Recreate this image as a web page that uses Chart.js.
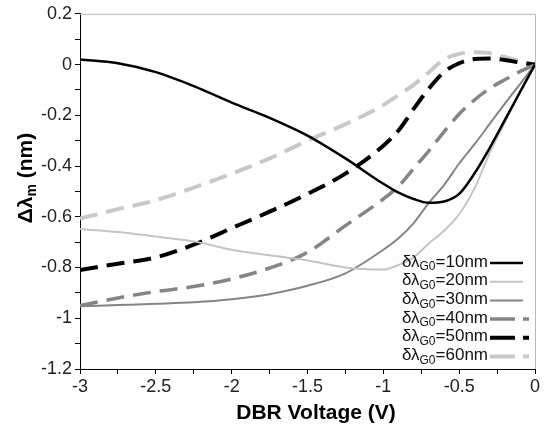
<!DOCTYPE html>
<html>
<head>
<meta charset="utf-8">
<script src="https://cdn.jsdelivr.net/npm/chart.js@4/dist/chart.umd.min.js"></script>
<style>
  body { margin: 0; background: #fff; }
  canvas { display: block; }
</style>
</head>
<body>
<canvas id="grafico" width="547" height="432"></canvas>
<script>
// datos
const voltajes = [-3, -2.75, -2.5, -2.25, -2, -1.75, -1.5, -1.25, -1, -0.9, -0.8, -0.7, -0.6, -0.5, -0.4, -0.3, -0.2, -0.1, 0];

const g10 = [0.02, 0.005, -0.03, -0.085, -0.15, -0.21, -0.28, -0.37, -0.47, -0.505, -0.53, -0.545, -0.54, -0.51, -0.43, -0.33, -0.22, -0.11, 0];
const g20 = [-0.648, -0.66, -0.678, -0.697, -0.73, -0.752, -0.772, -0.8, -0.808, -0.79, -0.76, -0.705, -0.655, -0.59, -0.49, -0.35, -0.23, -0.11, 0];
const g30 = [-0.953, -0.948, -0.943, -0.937, -0.925, -0.905, -0.872, -0.823, -0.73, -0.685, -0.625, -0.545, -0.475, -0.39, -0.315, -0.235, -0.155, -0.078, 0];
const g40 = [-0.95, -0.92, -0.895, -0.875, -0.845, -0.802, -0.74, -0.635, -0.53, -0.48, -0.41, -0.34, -0.265, -0.195, -0.14, -0.095, -0.06, -0.028, 0];
const g50 = [-0.81, -0.785, -0.76, -0.71, -0.645, -0.58, -0.51, -0.43, -0.32, -0.26, -0.175, -0.095, -0.03, 0.005, 0.022, 0.024, 0.018, 0.008, 0];
const g60 = [-0.607, -0.57, -0.535, -0.485, -0.43, -0.37, -0.3, -0.235, -0.16, -0.12, -0.08, -0.03, 0.02, 0.042, 0.048, 0.045, 0.03, 0.013, 0];

const etiquetas = ['10nm', '20nm', '30nm', '40nm', '50nm', '60nm'];
const series = [g10, g20, g30, g40, g50, g60];

const estilos = [
  { color: '#000000', ancho: 2.5, guion: [] },
  { color: '#c4c4c4', ancho: 2, guion: [] },
  { color: '#858585', ancho: 2, guion: [] },
  { color: '#858585', ancho: 3.5, guion: [18, 9] },
  { color: '#000000', ancho: 4, guion: [18, 9] },
  { color: '#c8c8c8', ancho: 4, guion: [18, 9] }
];

const datasets = series.map((s, i) => ({
  label: etiquetas[i],
  data: voltajes.map((v, j) => ({ x: v, y: s[j] })),
  borderColor: estilos[i].color,
  borderWidth: estilos[i].ancho,
  borderDash: estilos[i].guion,
  pointRadius: 0,
  cubicInterpolationMode: 'monotone',
  fill: false
}));

const FUENTE = '"Liberation Sans", Arial, sans-serif';

// leyenda, títulos y marco dibujados a mano
const extras = {
  id: 'extras',
  afterDraw(chart) {
    const ctx = chart.ctx;
    const a = chart.chartArea;
    ctx.save();

    // marco superior y derecho
    ctx.strokeStyle = '#b8b8b8';
    ctx.lineWidth = 1;
    ctx.setLineDash([]);
    ctx.beginPath();
    ctx.moveTo(a.left, a.top + 0.5);
    ctx.lineTo(a.right + 0.5, a.top + 0.5);
    ctx.lineTo(a.right + 0.5, a.bottom);
    ctx.stroke();

    // leyenda
    ctx.textBaseline = 'middle';
    for (let i = 0; i < etiquetas.length; i++) {
      const y = 262 + i * 18.7;
      const xr = 488;
      ctx.fillStyle = '#111';
      ctx.font = '17px ' + FUENTE;
      const w1 = ctx.measureText('δλ').width;
      const w3 = ctx.measureText('=' + etiquetas[i]).width;
      ctx.font = '12px ' + FUENTE;
      const w2 = ctx.measureText('G0').width;
      const x = xr - w1 - w2 - w3;
      ctx.textAlign = 'left';
      ctx.font = '17px ' + FUENTE;
      ctx.fillText('δλ', x, y);
      ctx.font = '12px ' + FUENTE;
      ctx.fillText('G0', x + w1, y + 5);
      ctx.font = '17px ' + FUENTE;
      ctx.fillText('=' + etiquetas[i], x + w1 + w2, y);

      const e = estilos[i];
      ctx.strokeStyle = e.color;
      ctx.lineWidth = e.ancho;
      ctx.setLineDash(e.guion.length ? [25, 8] : []);
      ctx.beginPath();
      ctx.moveTo(490, y + 1);
      ctx.lineTo(e.guion.length ? 529 : 523, y + 1);
      ctx.stroke();
    }
    ctx.setLineDash([]);

    // título eje x
    ctx.fillStyle = '#000';
    ctx.font = 'bold 21px ' + FUENTE;
    ctx.textAlign = 'center';
    ctx.fillText('DBR Voltage (V)', 316, 413);

    // título eje y con subíndice
    ctx.translate(26, 178);
    ctx.rotate(-Math.PI / 2);
    ctx.font = 'bold 21px ' + FUENTE;
    const t1 = 'Δλ', t3 = ' (nm)';
    const a1 = ctx.measureText(t1).width;
    const a3 = ctx.measureText(t3).width;
    ctx.font = 'bold 14px ' + FUENTE;
    const a2 = ctx.measureText('m').width;
    const x0 = -(a1 + a2 + a3) / 2;
    ctx.textAlign = 'left';
    ctx.font = 'bold 21px ' + FUENTE;
    ctx.fillText(t1, x0, 0);
    ctx.font = 'bold 14px ' + FUENTE;
    ctx.fillText('m', x0 + a1, 6);
    ctx.font = 'bold 21px ' + FUENTE;
    ctx.fillText(t3, x0 + a1 + a2, 0);
    ctx.restore();
  }
};

function fmt(v) {
  const r = Math.round(v * 10) / 10;
  return r === 0 ? '0' : String(r);
}

new Chart(document.getElementById('grafico'), {
  type: 'line',
  data: { datasets },
  plugins: [extras],
  options: {
    responsive: false,
    animation: false,
    devicePixelRatio: 1,
    layout: { padding: { top: 10, right: 12, left: 0, bottom: 0 } },
    plugins: { legend: { display: false }, tooltip: { enabled: false } },
    scales: {
      x: {
        type: 'linear',
        min: -3,
        max: 0,
        afterFit: s => { s.height = 63; },
        ticks: {
          stepSize: 0.25,
          autoSkip: false,
          maxRotation: 0,
          padding: 2,
          color: '#222',
          font: { size: 18, family: FUENTE },
          callback: v => (Math.round(v * 4) % 2 === 0 ? fmt(v) : '')
        },
        grid: { drawOnChartArea: false, tickLength: 5, color: '#000' },
        border: { color: '#000', width: 1 }
      },
      y: {
        min: -1.2,
        max: 0.2,
        afterFit: s => { s.width = 80; },
        ticks: {
          stepSize: 0.1,
          autoSkip: false,
          padding: 3,
          color: '#222',
          font: { size: 18, family: FUENTE },
          callback: v => (Math.round(v * 10) % 2 === 0 ? fmt(v) : '')
        },
        grid: { drawOnChartArea: false, tickLength: 5, color: '#000' },
        border: { color: '#000', width: 1 }
      }
    }
  }
});
</script>
</body>
</html>
